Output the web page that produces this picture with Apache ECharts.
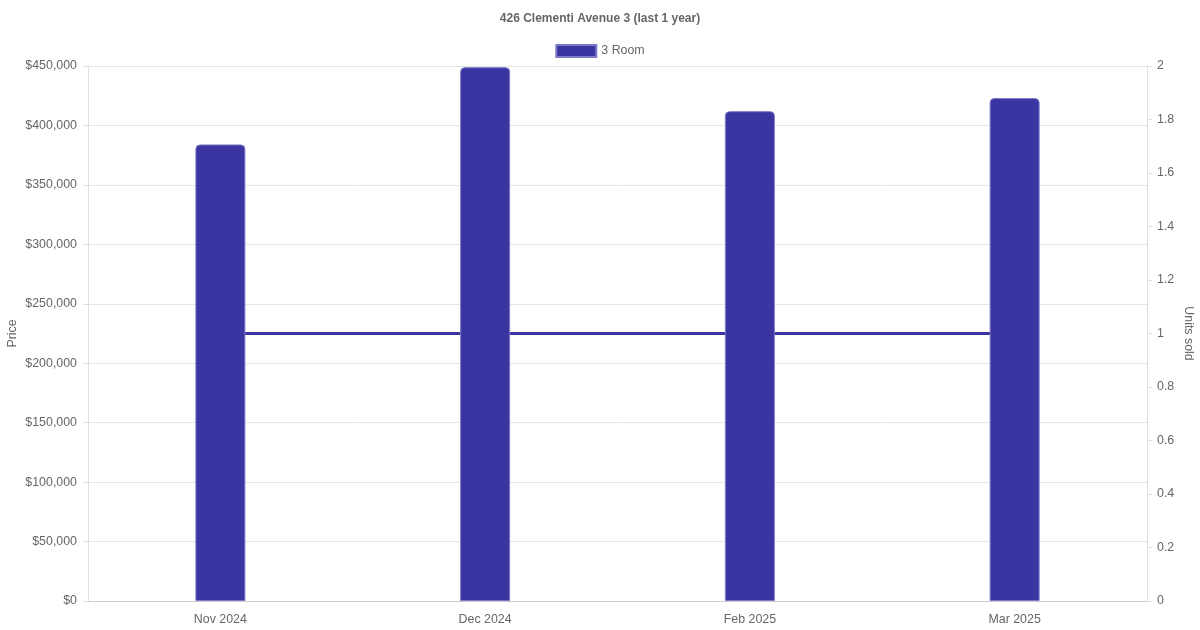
<!DOCTYPE html>
<html>
<head>
<meta charset="utf-8">
<script src="https://cdn.jsdelivr.net/npm/echarts@6/dist/echarts.min.js"></script>
<style>html,body{margin:0;padding:0;background:#fff}#c{width:1200px;height:630px}</style>
</head>
<body>
<div id="c"></div>
<script>
const categories = ['Nov 2024', 'Dec 2024', 'Feb 2025', 'Mar 2025'];
const priceValues = [384000, 449000, 412000, 423000];
const unitsSold = [1, 1, 1, 1];
const seriesName = '3 Room';
const titleText = '426 Clementi Avenue 3 (last 1 year)';

const FONT = 'Liberation Sans, Arial, sans-serif';
const FS = 12.4;
const chart = echarts.init(document.getElementById('c'));
chart.setOption({
  animation: false,
  textStyle: { fontFamily: FONT },
  title: {
    text: titleText, left: 'center', top: 8,
    textStyle: { fontSize: 12, fontWeight: 'bold', color: '#666', fontFamily: FONT }
  },
  legend: {
    data: [{ name: seriesName, icon: 'rect' }], top: 39, left: 'center',
    itemWidth: 40, itemHeight: 12, itemGap: 10,
    textStyle: { fontSize: FS, color: '#666', fontFamily: FONT }
  },
  grid: { left: 88, right: 53, top: 66, bottom: 29, containLabel: false, outerBoundsMode: 'none' },
  xAxis: {
    type: 'category', data: categories,
    axisLine: { lineStyle: { color: '#ccc' } },
    axisTick: { show: false },
    axisLabel: { color: '#666', fontSize: FS, margin: 13, fontFamily: FONT },
    splitLine: { show: false }
  },
  yAxis: [{
    type: 'value', min: 0, max: 450000, interval: 50000,
    name: 'Price', nameLocation: 'middle', nameGap: 69, nameRotate: 90, nameMoveOverlap: false,
    nameTextStyle: { color: '#666', fontSize: FS, fontFamily: FONT },
    axisLine: { show: true, lineStyle: { color: '#e0e0e0' } },
    axisTick: { show: true, length: 5, lineStyle: { color: '#e0e0e0' } },
    axisLabel: { color: '#666', fontSize: FS, margin: 11, fontFamily: FONT,
      formatter: v => '$' + v.toLocaleString('en-US') },
    splitLine: { show: true, lineStyle: { color: '#e5e5e5' } }
  }, {
    type: 'value', min: 0, max: 2, interval: 0.2, position: 'right',
    name: 'Units sold', nameLocation: 'middle', nameGap: 35, nameRotate: -90, nameMoveOverlap: false,
    nameTextStyle: { color: '#666', fontSize: FS, fontFamily: FONT },
    axisLine: { show: true, lineStyle: { color: '#e0e0e0' } },
    axisTick: { show: true, length: 5, lineStyle: { color: '#e0e0e0' } },
    axisLabel: { color: '#666', fontSize: FS, margin: 10, fontFamily: FONT },
    splitLine: { show: false }
  }],
  series: [{
    name: seriesName, type: 'bar', data: priceValues, yAxisIndex: 0,
    barWidth: 50, z: 3,
    itemStyle: { color: '#3a35a0', borderColor: '#7d7ac8', borderWidth: 1, borderRadius: [4, 4, 0, 0] }
  }, {
    name: 'Units', type: 'line', data: unitsSold, yAxisIndex: 1,
    z: 1, symbol: 'none', showSymbol: false,
    lineStyle: { color: '#3a35a0', width: 3 }
  }]
});
</script>
</body>
</html>
